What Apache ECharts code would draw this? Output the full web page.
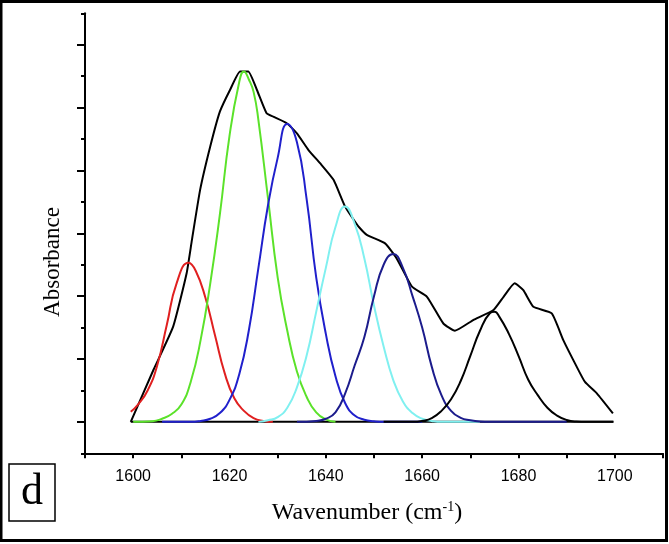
<!DOCTYPE html>
<html>
<head>
<meta charset="utf-8">
<script src="https://cdn.jsdelivr.net/npm/echarts@6/dist/echarts.min.js"></script>
<style>html,body{margin:0;padding:0;background:#fff}#c{width:669px;height:544px}</style>
</head>
<body>
<div id="c"></div>
<script>
// ---- data ----
const xTickLabels = [1600, 1620, 1640, 1660, 1680, 1700];
const yMajorTicks = [0, 2, 4, 6, 8, 10, 12];
const yMinorTicks = [-1, 1, 3, 5, 7, 9, 11, 13];

const envelope = [[1599.5,0],[1604.2,1.65],[1608.3,3.03],[1611.1,4.73],[1612.2,5.79],[1613.9,7.38],[1616.0,8.76],[1618.0,9.87],[1620.1,10.56],[1622.2,11.15],[1623.9,11.15],[1625.7,10.56],[1627.7,9.82],[1629.1,9.71],[1631.9,9.5],[1634.0,9.18],[1636.4,8.65],[1638.8,8.23],[1641.6,7.7],[1644.0,6.85],[1646.8,6.21],[1648.5,5.95],[1652.3,5.68],[1654.7,5.2],[1657.9,4.3],[1661.0,3.98],[1664.4,3.13],[1666.8,2.9],[1670.6,3.24],[1674.8,3.56],[1676.9,3.98],[1679.2,4.41],[1681.0,4.19],[1683.1,3.66],[1686.9,3.45],[1689.3,2.6],[1692.1,1.75],[1693.8,1.27],[1696.3,0.9],[1699.6,0.27]];
const baseline = [[1599.5,0],[1699.7,0]];
const band1611 = [[1599.5,0.32],[1601,0.55],[1603,1.0],[1605,1.8],[1607,3.1],[1609,4.4],[1611.5,5.06],[1613,4.8],[1615,3.95],[1617,2.75],[1619,1.55],[1621,0.75],[1623,0.35],[1625,0.12],[1627,0.03],[1629,0]];
const band1623 = [[1600,0],[1604,0.02],[1606,0.1],[1608,0.25],[1610,0.55],[1612,1.3],[1614,2.6],[1616,4.4],[1618,6.6],[1620,9.1],[1622,10.8],[1623,11.15],[1624,10.9],[1625,10.5],[1626,9.6],[1628,7.1],[1630,4.6],[1632,2.9],[1634,1.6],[1636,0.8],[1638,0.3],[1640,0.08],[1642,0]];
const band1632 = [[1606,0],[1612,0],[1614,0.03],[1616,0.1],[1618,0.28],[1620,0.7],[1622,1.5],[1624,2.9],[1626,4.9],[1628,6.9],[1630,8.4],[1632,9.48],[1634,8.9],[1636,7.1],[1638,4.6],[1640,2.8],[1642,1.45],[1644,0.6],[1646,0.2],[1648,0.07],[1650,0.02],[1652,0],[1660,0]];
const band1644 = [[1626,0],[1628,0.05],[1630,0.15],[1632,0.45],[1634,1.1],[1636,2.1],[1638,3.5],[1640,4.9],[1642,6.2],[1644,6.85],[1646,6.3],[1648,5.2],[1650,3.7],[1652,2.4],[1654,1.33],[1656,0.65],[1658,0.28],[1660,0.1],[1662,0.03],[1664,0],[1672,0]];
const band1654 = [[1634,0],[1638,0.03],[1640,0.1],[1642,0.3],[1644,0.9],[1646,1.8],[1648,2.7],[1650,4.0],[1652,5.0],[1654,5.34],[1656,4.9],[1658,4.0],[1660,3.0],[1662,1.75],[1664,0.85],[1666,0.35],[1668,0.13],[1670,0.05],[1672,0.01],[1674,0],[1690,0]];
const band1675 = [[1652,0],[1658,0],[1660,0.03],[1662,0.12],[1664,0.35],[1666,0.72],[1668,1.3],[1670,2.1],[1672,2.9],[1674,3.45],[1675,3.5],[1676,3.35],[1678,2.8],[1680,2.1],[1682,1.35],[1684,0.85],[1686,0.45],[1688,0.2],[1690,0.06],[1692,0.01],[1694,0],[1699.7,0]];

const chart = echarts.init(document.getElementById('c'), null, {renderer: 'canvas'});

function line(data, color, smooth) {
  return {
    type: 'line', data: data, showSymbol: false, symbol: 'none',
    smooth: smooth, lineStyle: {color: color, width: 2}, xAxisIndex: 0, yAxisIndex: 0,
    silent: true
  };
}

const option = {
  animation: false,
  backgroundColor: '#fff',
  grid: {left: 85, top: 13.3, right: 6, bottom: 90.7},
  xAxis: {
    type: 'value', min: 1590, max: 1710, interval: 10,
    axisLine: {onZero: false, lineStyle: {color: '#000', width: 2}},
    axisTick: {length: 5, lineStyle: {color: '#000', width: 2}},
    axisLabel: {customValues: xTickLabels, formatter: function (v) { return String(v); }, color: '#000', fontFamily: 'Liberation Sans', fontSize: 16, margin: 15},
    splitLine: {show: false}
  },
  yAxis: [
    {
      type: 'value', min: -1, max: 13, position: 'left',
      axisLine: {show: true, onZero: false, lineStyle: {color: '#000', width: 2}},
      axisTick: {show: true, customValues: yMajorTicks, length: 8, lineStyle: {color: '#000', width: 2}},
      axisLabel: {show: false},
      splitLine: {show: false}
    },
    {
      type: 'value', min: -1, max: 13, position: 'left', offset: 0,
      axisLine: {show: false, onZero: false},
      axisTick: {show: true, customValues: yMinorTicks, length: 4, lineStyle: {color: '#000', width: 2}},
      axisLabel: {show: false},
      splitLine: {show: false}
    }
  ],
  graphic: [
    {type: 'rect', shape: {x: 1, y: 1.5, width: 665.5, height: 539}, style: {fill: 'none', stroke: '#000', lineWidth: 3}, z: 100},
    {type: 'rect', shape: {x: 9, y: 464, width: 46, height: 57}, style: {fill: 'none', stroke: '#000', lineWidth: 1.5}, z: 100},
    {type: 'text', x: 32, y: 492, style: {text: 'd', font: '44px "Liberation Serif"', fill: '#000', align: 'center', verticalAlign: 'middle'}, z: 100},
    {type: 'text', x: 53, y: 262, rotation: Math.PI / 2, style: {text: 'Absorbance', font: '23px "Liberation Serif"', fill: '#000', align: 'center', verticalAlign: 'middle'}, z: 100},
    {type: 'text', x: 367, y: 513, style: {
      text: '{a|Wavenumber (cm}{s|-1}{a|)}',
      align: 'center', verticalAlign: 'middle', fill: '#000',
      rich: {
        a: {fontFamily: 'Liberation Serif', fontSize: 24, fill: '#000', lineHeight: 26},
        s: {fontFamily: 'Liberation Serif', fontSize: 14, fill: '#000', verticalAlign: 'top', lineHeight: 26}
      }
    }, z: 100}
  ],
  series: [
    line(envelope, '#000000', 0.15),
    line(baseline, '#000000', false),
    line(band1611, '#e02020', true),
    line(band1623, '#5be22a', true),
    line(band1632, '#2020cc', true),
    line(band1644, '#80f0f0', true),
    line(band1654, '#1c1c8c', true),
    line(band1675, '#000000', true)
  ]
};
chart.setOption(option);
</script>
</body>
</html>
